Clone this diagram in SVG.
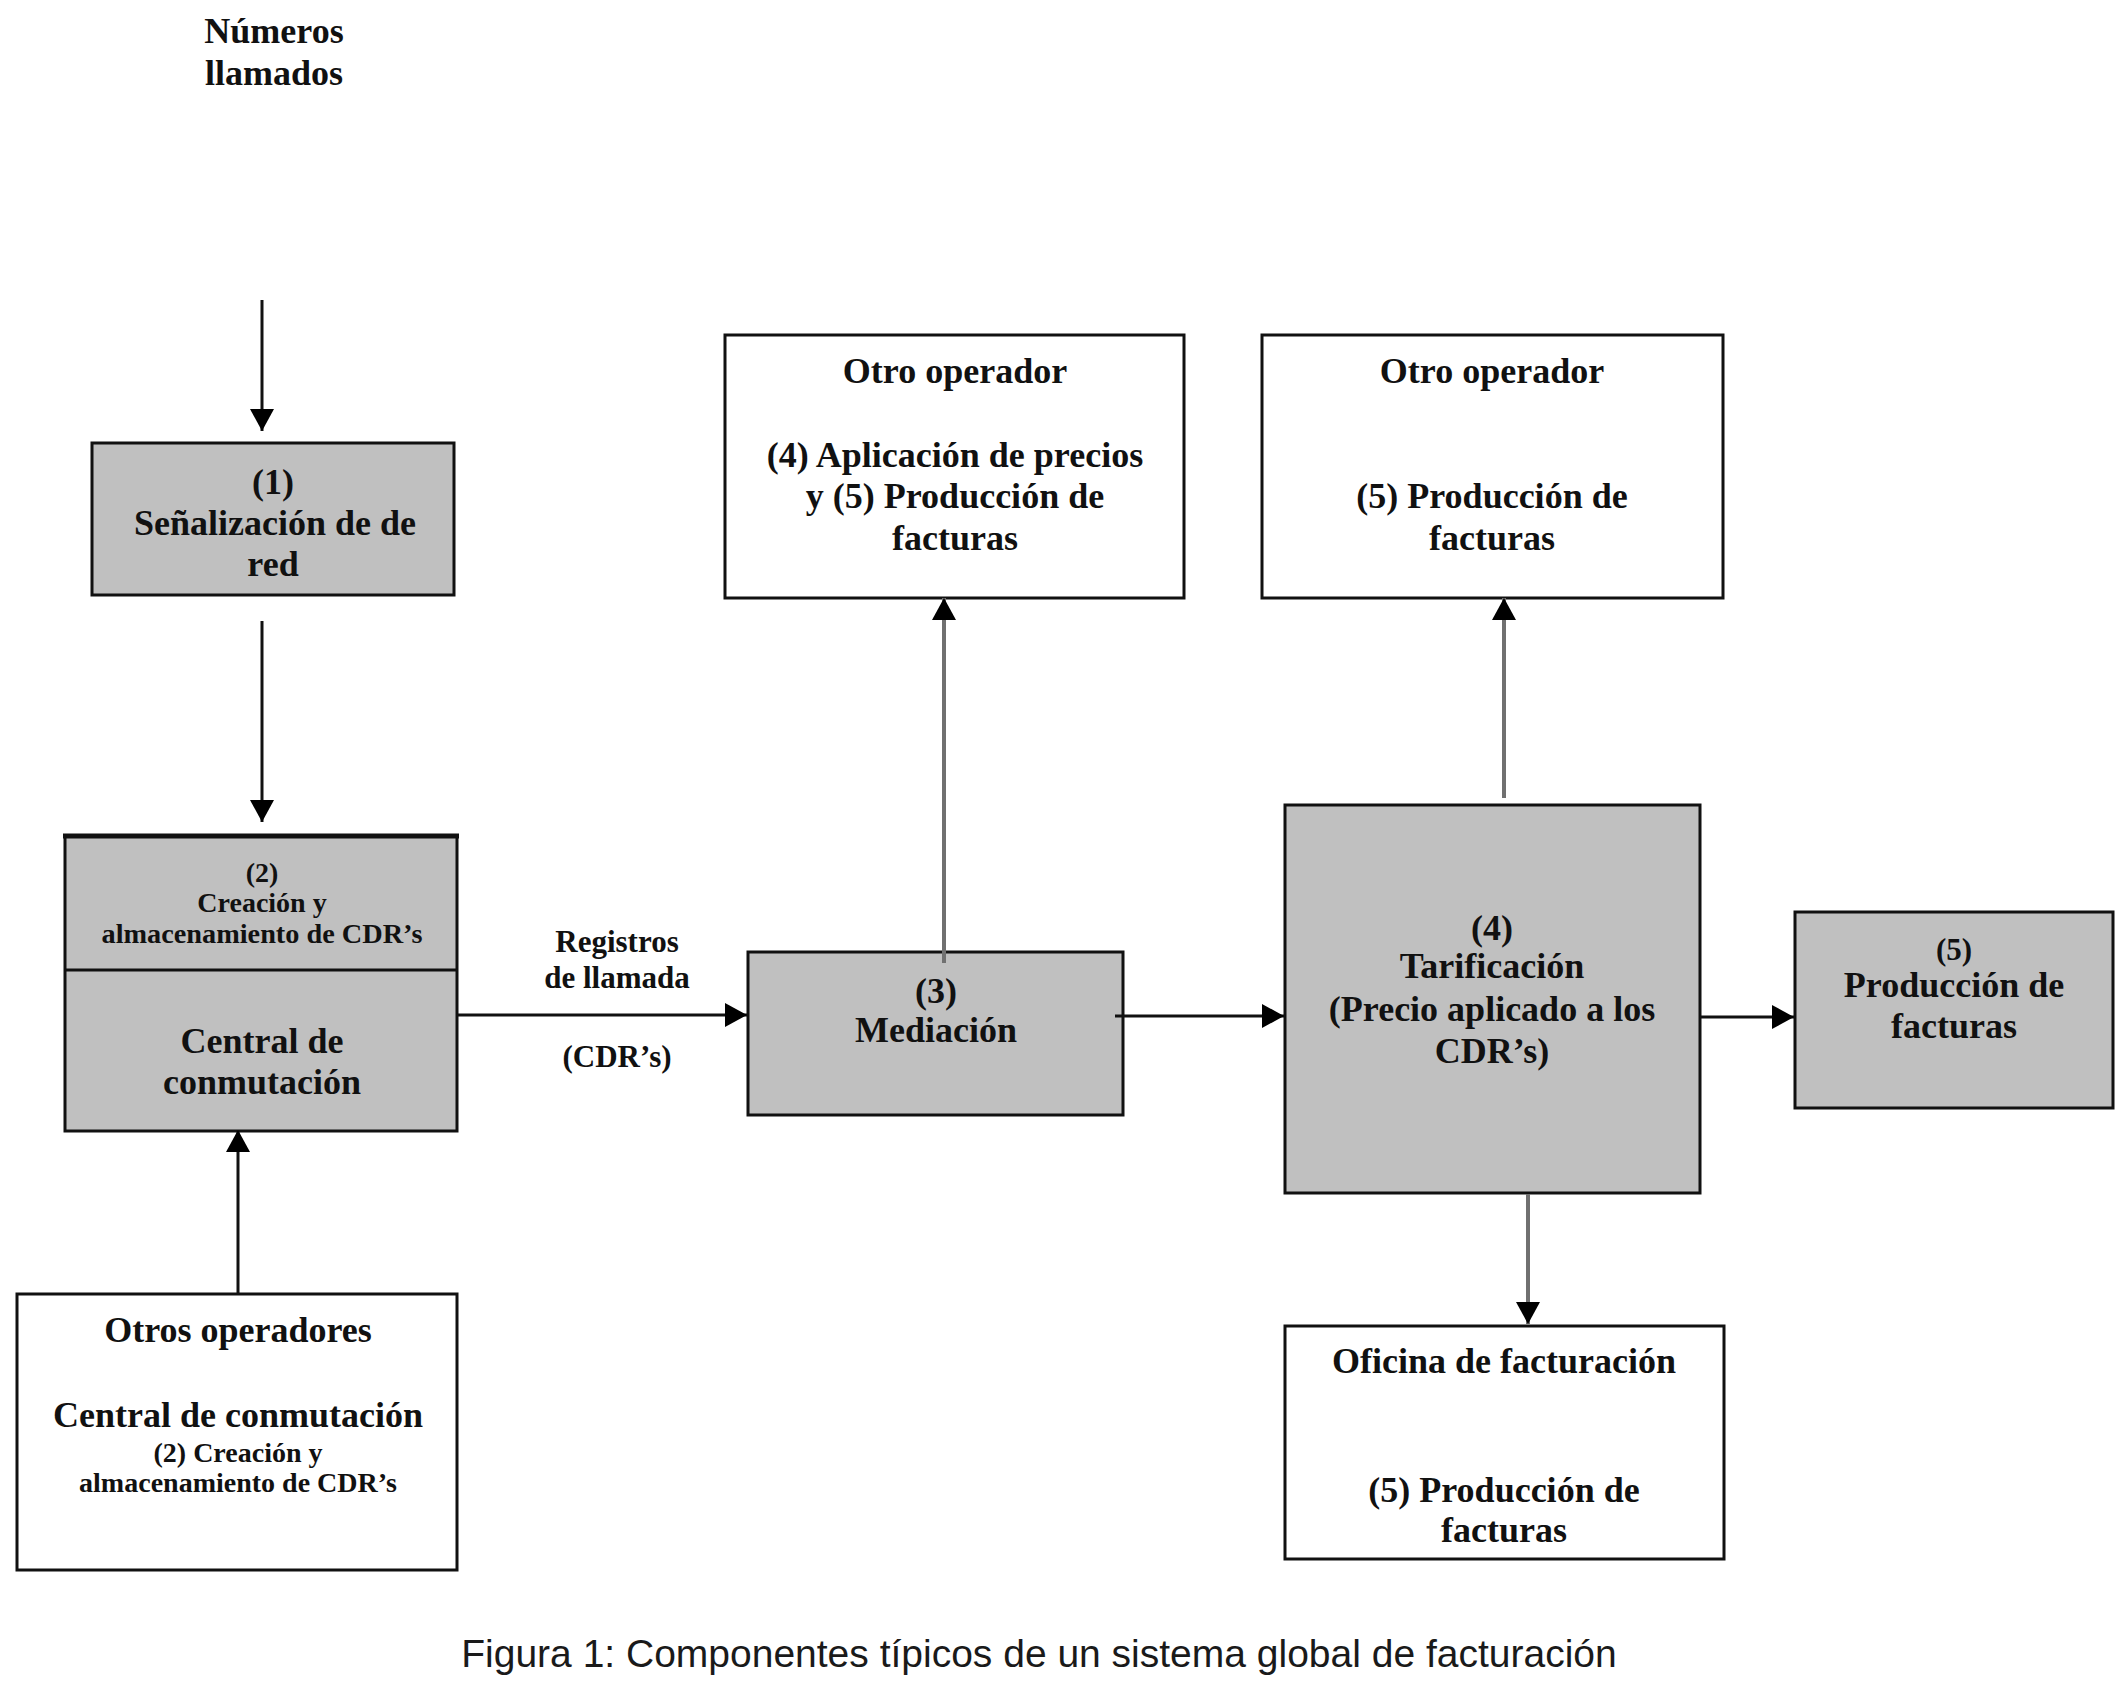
<svg xmlns="http://www.w3.org/2000/svg" width="2126" height="1695" viewBox="0 0 2126 1695">
<defs>
<style>
.box{stroke:#111;stroke-width:3}
.g{fill:#c0c0c0}
.w{fill:#fff}
text{font-family:"Liberation Serif","Times New Roman",serif;font-weight:bold;fill:#111;text-anchor:middle}
.t36{font-size:36px}
.t31{font-size:31px}
.t28{font-size:28px}
.cap{font-family:"Liberation Sans",Arial,sans-serif;font-weight:normal;font-size:39px;fill:#1a1a1a}
.c{fill:none;stroke-width:3}
.k{stroke:#111}
.gr{stroke:#707070;stroke-width:4}
</style>
<marker id="ah" markerUnits="userSpaceOnUse" markerWidth="24" markerHeight="24" viewBox="0 0 24 24" refX="22" refY="12" orient="auto">
<path d="M0,0 L22,12 L0,24 Z" fill="#000"/>
</marker>
</defs>
<rect width="2126" height="1695" fill="#fff"/>

<g id="numeros">
<text class="t36" x="274" y="43">Números</text>
<text class="t36" x="274" y="85">llamados</text>
</g>

<g id="senalizacion">
<rect class="box g" x="92" y="443" width="362" height="152"/>
<text class="t36" x="273" y="494">(1)</text>
<text class="t36" x="275" y="535">Señalización de de</text>
<text class="t36" x="273" y="576">red</text>
</g>

<g id="central">
<rect class="box g" x="65" y="836" width="392" height="295"/>
<line x1="63" y1="836" x2="459" y2="836" stroke="#111" stroke-width="5"/>
<line x1="65" y1="970" x2="457" y2="970" stroke="#111" stroke-width="3"/>
<text class="t28" x="262" y="882">(2)</text>
<text class="t28" x="262" y="912">Creación y</text>
<text class="t28" x="262" y="943" textLength="321" lengthAdjust="spacingAndGlyphs">almacenamiento de CDR’s</text>
<text class="t36" x="262" y="1053">Central de</text>
<text class="t36" x="262" y="1094">conmutación</text>
</g>

<g id="otros-operadores">
<rect class="box w" x="17" y="1294" width="440" height="276"/>
<text class="t36" x="238" y="1342">Otros operadores</text>
<text class="t36" x="238" y="1427">Central de conmutación</text>
<text class="t28" x="238" y="1462">(2) Creación y</text>
<text class="t28" x="238" y="1492">almacenamiento de CDR’s</text>
</g>

<g id="registros-label">
<text class="t31" x="617" y="952">Registros</text>
<text class="t31" x="617" y="988">de llamada</text>
<text class="t31" x="617" y="1067">(CDR’s)</text>
</g>

<g id="mediacion">
<rect class="box g" x="748" y="952" width="375" height="163"/>
<text class="t36" x="936" y="1003">(3)</text>
<text class="t36" x="936" y="1042">Mediación</text>
</g>

<g id="otro-operador-1">
<rect class="box w" x="725" y="335" width="459" height="263"/>
<text class="t36" x="955" y="383">Otro operador</text>
<text class="t36" x="955" y="467">(4) Aplicación de precios</text>
<text class="t36" x="955" y="508">y (5) Producción de</text>
<text class="t36" x="955" y="550">facturas</text>
</g>

<g id="otro-operador-2">
<rect class="box w" x="1262" y="335" width="461" height="263"/>
<text class="t36" x="1492" y="383">Otro operador</text>
<text class="t36" x="1492" y="508">(5) Producción de</text>
<text class="t36" x="1492" y="550">facturas</text>
</g>

<g id="tarificacion">
<rect class="box g" x="1285" y="805" width="415" height="388"/>
<text class="t36" x="1492" y="940">(4)</text>
<text class="t36" x="1492" y="978">Tarificación</text>
<text class="t36" x="1492" y="1021">(Precio aplicado a los</text>
<text class="t36" x="1492" y="1063">CDR’s)</text>
</g>

<g id="produccion">
<rect class="box g" x="1795" y="912" width="318" height="196"/>
<text class="t31" x="1954" y="960">(5)</text>
<text class="t36" x="1954" y="997">Producción de</text>
<text class="t36" x="1954" y="1038">facturas</text>
</g>

<g id="oficina">
<rect class="box w" x="1285" y="1326" width="439" height="233"/>
<text class="t36" x="1504" y="1373">Oficina de facturación</text>
<text class="t36" x="1504" y="1502">(5) Producción de</text>
<text class="t36" x="1504" y="1542">facturas</text>
</g>

<g id="connectors">
<line class="c k" x1="262" y1="300" x2="262" y2="431" marker-end="url(#ah)"/>
<line class="c k" x1="262" y1="621" x2="262" y2="822" marker-end="url(#ah)"/>
<line class="c k" x1="457" y1="1015" x2="747" y2="1015" marker-end="url(#ah)"/>
<line class="c gr" x1="944" y1="963" x2="944" y2="598" marker-end="url(#ah)"/>
<line class="c k" x1="1115" y1="1016" x2="1284" y2="1016" marker-end="url(#ah)"/>
<line class="c gr" x1="1504" y1="798" x2="1504" y2="598" marker-end="url(#ah)"/>
<line class="c k" x1="1700" y1="1017" x2="1794" y2="1017" marker-end="url(#ah)"/>
<line class="c gr" x1="1528" y1="1194" x2="1528" y2="1324" marker-end="url(#ah)"/>
<line class="c k" x1="238" y1="1293" x2="238" y2="1130" marker-end="url(#ah)"/>
</g>

<g id="caption">
<text class="cap" x="1039" y="1667">Figura 1: Componentes típicos de un sistema global de facturación</text>
</g>
</svg>
